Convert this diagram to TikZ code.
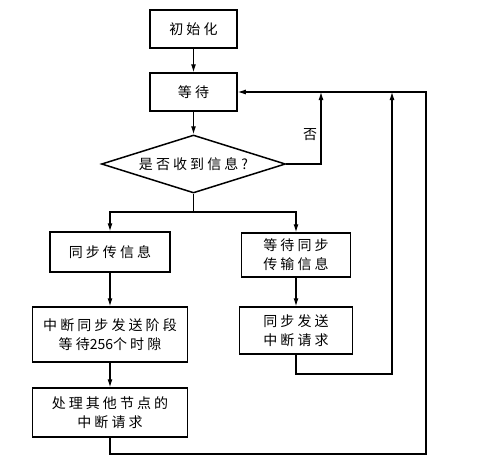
\documentclass[tikz,border=0pt]{standalone}
\usepackage{fontspec}
\setmainfont[LetterSpace=22]{Noto Sans CJK SC}
\newfontfamily\plainnum{Noto Sans CJK SC}
\usetikzlibrary{shapes.geometric,arrows.meta}
\tikzset{
  box/.style={draw, line width=1.5pt, inner sep=0pt, align=center, font=\fontsize{14}{19}\selectfont},
  conn/.style={line width=1.1pt},
  arr/.style={conn, -{Latex[length=8pt,width=5pt]}}
}
\begin{document}
\begin{tikzpicture}[x=1pt,y=-1pt]
\useasboundingbox (0,0) rectangle (487,466);
\node[box, minimum width=87pt, minimum height=38pt] (init) at (193.5,29) {初始化};
\node[box, minimum width=87pt, minimum height=38pt] (wait) at (193.5,92) {等待};
\node[box, diamond, aspect=3.17, inner sep=0pt, minimum width=184pt, minimum height=58pt] (dia) at (193.5,164) {是否收到信息?};
\node[box, minimum width=120pt, minimum height=40pt] (sync) at (110,252) {同步传信息};
\node[box, minimum width=109pt, minimum height=44pt] (r1) at (296,255) {等待同步\\传输信息};
\node[box, minimum width=155pt, minimum height=55pt] (ml) at (110,334.5) {中断同步发送阶段\\等待{\plainnum 256}个时隙};
\node[box, minimum width=155pt, minimum height=49pt] (bl) at (110,412.5) {处理其他节点的\\中断请求};
\node[box, minimum width=113pt, minimum height=47pt] (r2) at (296,330.5) {同步发送\\中断请求};
\node[font=\fontsize{14}{16}\selectfont] (no) at (310,135) {否};

\coordinate (br) at (193.5,212);
\coordinate (noTop) at (321,92);
\coordinate (loopA) at (426,454);
\coordinate (loopB) at (392,374);

\draw[arr] (init) -- (wait);
\draw[arr] (wait) -- (dia);
\draw[conn] (dia.south) -- (br);
\draw[arr] (br) -| (sync.north);
\draw[arr] (br) -| (r1.north);
\draw[arr] (sync) -- (ml);
\draw[arr] (ml) -- (bl);
\draw[arr] (r1) -- (r2);
\draw[arr] (dia.east) -| (noTop);
\draw[arr] (r2.south) |- (loopB) -- (loopB |- wait.east);
\draw[arr] (bl.south) |- (loopA) |- (wait.east);
\end{tikzpicture}
\end{document}
